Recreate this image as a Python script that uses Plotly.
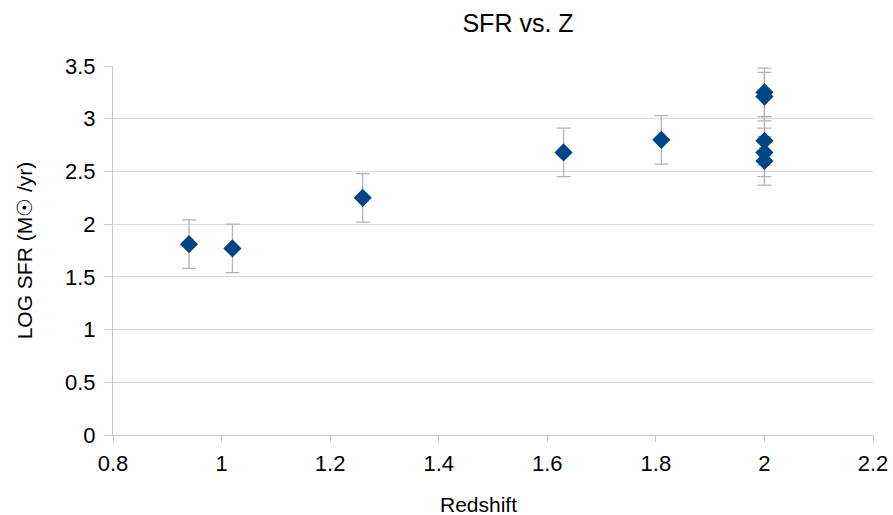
import plotly.graph_objects as go

redshift = [0.94, 1.02, 1.26, 1.63, 1.81, 2.0, 2.0, 2.0, 2.0, 2.0]
log_sfr = [1.81, 1.77, 2.25, 2.68, 2.80, 3.25, 3.21, 2.79, 2.68, 2.60]
sfr_err = [0.23, 0.23, 0.23, 0.23, 0.23, 0.23, 0.23, 0.23, 0.23, 0.23]
x_ticks = [0.8, 1, 1.2, 1.4, 1.6, 1.8, 2, 2.2]
y_ticks = [0, 0.5, 1, 1.5, 2, 2.5, 3, 3.5]

font = "Liberation Sans, Arial, sans-serif"
axis_gray = "#c8c8c8"

fig = go.Figure()
fig.add_trace(go.Scatter(
    x=redshift, y=log_sfr, mode="markers",
    marker=dict(symbol="diamond", size=14, color="#004586", line=dict(width=0)),
    error_y=dict(type="data", array=sfr_err, visible=True, color="#b3b3b3",
                 thickness=1.3, width=7),
    showlegend=False,
))

fig.update_layout(
    width=893, height=515,
    margin=dict(l=113, r=20, t=66, b=80),
    paper_bgcolor="white", plot_bgcolor="white",
    font=dict(family=font, color="#000000", size=22),
    title=dict(text="SFR vs. Z", x=518/893, xanchor="center", y=1-23/515, yanchor="middle",
               font=dict(size=25, family=font)),
    xaxis=dict(range=[0.8, 2.2], tickvals=x_ticks, ticktext=[str(v) for v in x_ticks],
               showgrid=False, showline=True, linecolor=axis_gray, linewidth=1,
               ticks="outside", ticklen=6, tickcolor=axis_gray, zeroline=False,
               ticklabelstandoff=3, automargin=False,
               tickfont=dict(size=22)),
    yaxis=dict(range=[0, 3.5], tickvals=y_ticks, ticktext=[str(v) for v in y_ticks],
               showgrid=True, gridcolor="#dcdcdc", gridwidth=1, zeroline=False,
               showline=True, linecolor=axis_gray, linewidth=1,
               ticks="outside", ticklen=8, tickcolor=axis_gray, ticklabelstandoff=4,
               automargin=False,
               title=dict(text="LOG SFR (M☉ /yr)", font=dict(size=21), standoff=26),
               tickfont=dict(size=22)),
    annotations=[dict(text="Redshift", x=(478 - 113) / 760, y=-(505 - 435) / 369,
                      xref="paper", yref="paper",
                      xanchor="center", yanchor="middle", showarrow=False,
                      font=dict(size=21, family=font))],
)

fig.write_html("out.html", post_script="document.body.style.margin='0';",
               config={"displayModeBar": False})
